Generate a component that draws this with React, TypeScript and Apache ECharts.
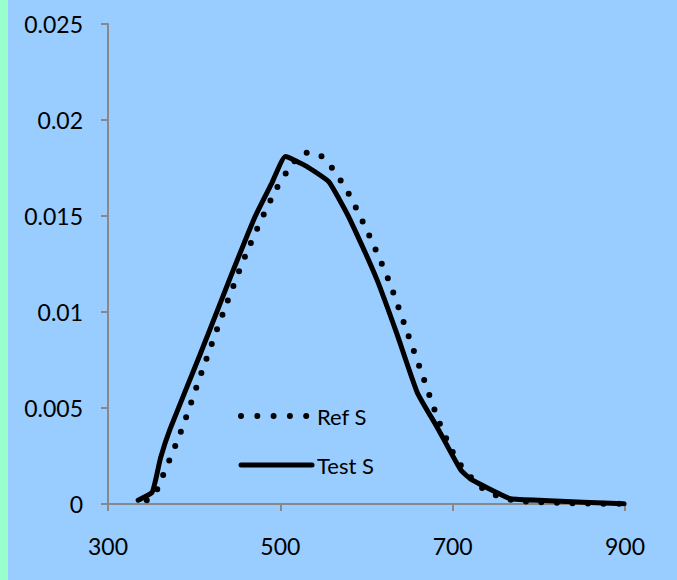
import React, { useEffect, useRef } from "react";
import * as echarts from "echarts";

const xTicks = [300, 500, 700, 900];
const yTicks = [0, 0.005, 0.01, 0.015, 0.02, 0.025];

const refX = [345, 355, 362, 384, 409, 434, 462, 494, 514, 528, 545, 560, 580, 605, 627, 646, 665, 684, 699, 708, 721, 735, 751, 770, 800, 850, 900];
const refY = [0.0002, 0.0006, 0.0013, 0.0037, 0.0069, 0.0100, 0.0132, 0.0163, 0.0177, 0.0183, 0.0182, 0.0175, 0.0161, 0.0138, 0.0115, 0.0091, 0.0067, 0.0043, 0.0028, 0.0021, 0.0014, 0.0008, 0.00044, 0.0002, 0.0001, 0.00003, 0.00001];

const testX = [335, 351, 355, 361, 372, 407, 442, 470, 490, 506, 530, 556, 568, 581, 612, 635, 659, 682, 709, 721, 751, 767, 806, 899];
const testY = [0.0002, 0.0006, 0.0012, 0.0024, 0.0039, 0.0078, 0.0118, 0.0149, 0.0167, 0.0181, 0.0176, 0.0168, 0.0159, 0.0148, 0.0117, 0.0089, 0.0058, 0.0040, 0.0018, 0.0013, 0.0006, 0.00027, 0.00018, 0.00001];

const seriesNames = ["Ref S", "Test S"];

export default function App() {
  const ref = useRef<HTMLDivElement>(null);
  useEffect(() => {
    if (!ref.current) return;
    const chart = echarts.init(ref.current, null, { renderer: "svg" });
    const font = "Lato, 'Open Sans', sans-serif";
    chart.setOption({
      animation: false,
      backgroundColor: "#99CCFF",
      graphic: [
        { type: "rect", left: 0, top: 0, shape: { width: 8, height: 580 }, style: { fill: "#99FFCC" }, silent: true },
      ],
      grid: { left: 108, right: 52, top: 24, bottom: 76 },
      legend: {
        orient: "vertical",
        left: 233,
        top: 400,
        itemWidth: 71,
        itemHeight: 10,
        itemGap: 27,
        itemStyle: { opacity: 0 },
        textStyle: { fontFamily: font, fontSize: 22, color: "#000" },
        data: [
          { name: seriesNames[0], lineStyle: { width: 6, type: [0, 16.3], cap: "round", color: "#000" } },
          { name: seriesNames[1], lineStyle: { width: 5, type: "solid", cap: "round", color: "#000" } },
        ],
      },
      xAxis: {
        type: "value",
        min: xTicks[0],
        max: xTicks[xTicks.length - 1],
        interval: 200,
        axisLine: { show: true, lineStyle: { color: "#888", width: 2 } },
        axisTick: { show: true, length: 7, lineStyle: { color: "#888", width: 2 } },
        splitLine: { show: false },
        axisLabel: { margin: 30, fontFamily: font, fontSize: 23, color: "#000" },
      },
      yAxis: {
        type: "value",
        min: yTicks[0],
        max: yTicks[yTicks.length - 1],
        interval: 0.005,
        axisLine: { show: true, lineStyle: { color: "#888", width: 2 } },
        axisTick: { show: true, length: 7, lineStyle: { color: "#888", width: 2 } },
        splitLine: { show: false },
        axisLabel: {
          margin: 25,
          fontFamily: font,
          fontSize: 23,
          color: "#000",
          formatter: (v: number) => String(+v.toFixed(3)),
        },
      },
      series: [
        {
          name: seriesNames[0],
          type: "line",
          data: refX.map((x, i) => [x, refY[i]]),
          showSymbol: false,
          symbol: "none",
          smooth: 0.3,
          lineStyle: { color: "#000", width: 6, type: [0, 15.5], cap: "round" },
          itemStyle: { color: "#000" },
          z: 2,
        },
        {
          name: seriesNames[1],
          type: "line",
          data: testX.map((x, i) => [x, testY[i]]),
          showSymbol: false,
          symbol: "none",
          smooth: 0.15,
          lineStyle: { color: "#000", width: 5, cap: "round", join: "round" },
          itemStyle: { color: "#000" },
          z: 3,
        },
      ],
    });
    return () => chart.dispose();
  }, []);
  return (
    <div
      ref={ref}
      style={{ position: "fixed", left: 0, top: 0, width: 677, height: 580 }}
    />
  );
}
